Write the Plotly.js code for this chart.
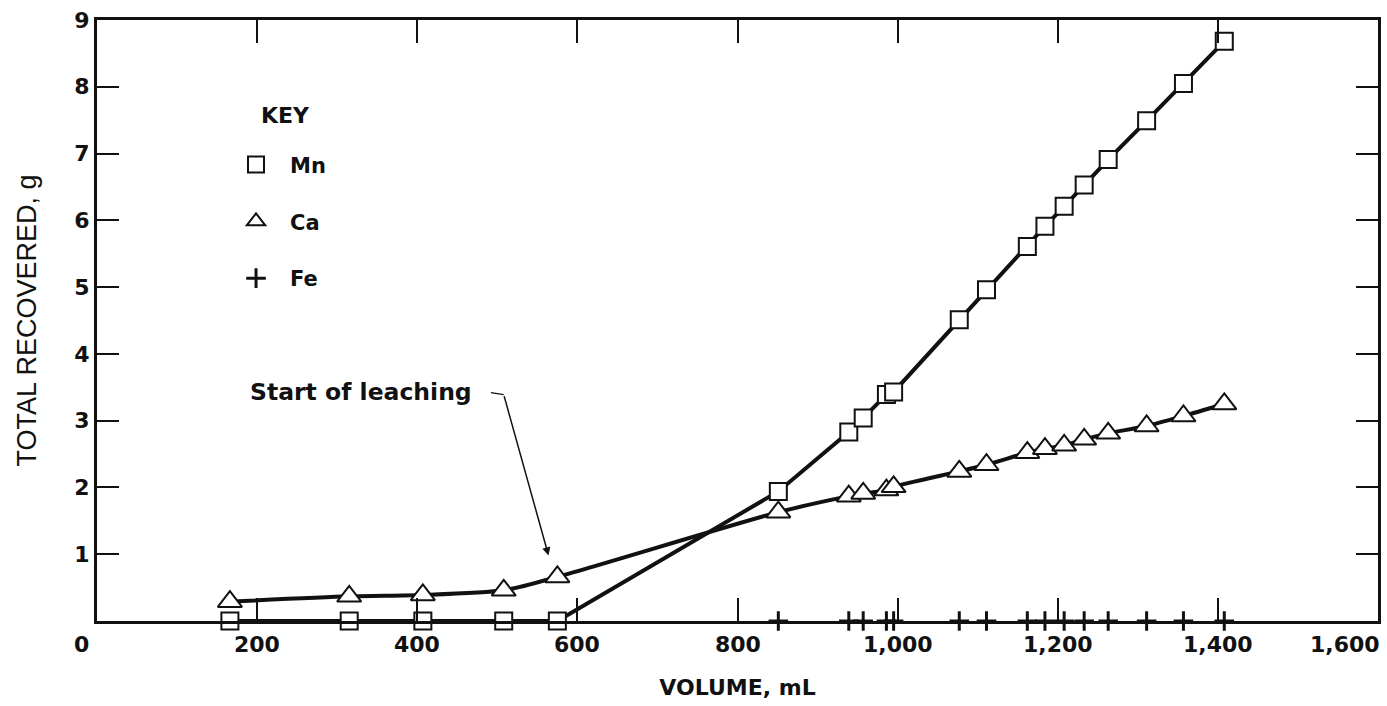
<!DOCTYPE html>
<html>
<head>
<meta charset="utf-8">
<script src="https://cdn.plot.ly/plotly-3.0.1.min.js"></script>
<style>
  html, body { margin: 0; padding: 0; background: #ffffff; }
  #chart { width: 1387px; height: 706px; }
</style>
</head>
<body>
<div id="chart"></div>
<script>
// Volume of leachate (mL) for each sample
const volume = [166, 315, 407, 508, 575, 851, 939, 957, 986, 995, 1077, 1111, 1162, 1184, 1208, 1233, 1263, 1311, 1357, 1408];
// Cumulative totals recovered (g)
const mn = [0, 0, 0, 0, 0, 1.94, 2.83, 3.04, 3.39, 3.43, 4.51, 4.96, 5.61, 5.91, 6.21, 6.53, 6.91, 7.49, 8.05, 8.68];
const ca = [0.29, 0.37, 0.39, 0.46, 0.66, 1.63, 1.87, 1.91, 1.96, 2.01, 2.24, 2.34, 2.52, 2.58, 2.63, 2.72, 2.81, 2.92, 3.07, 3.25];
const feVolume = [851, 939, 957, 986, 995, 1077, 1111, 1162, 1184, 1208, 1233, 1263, 1311, 1357, 1408];
const fe = [0, 0, 0, 0, 0, 0, 0, 0, 0, 0, 0, 0, 0, 0, 0];

// Axis ticks
const xTickVals = [0, 200, 400, 600, 800, 1000, 1200, 1400, 1600];
const xTickText = ['0', '200', '400', '600', '800', '1,000', '1,200', '1,400', '1,600'];
const yTickVals = [1, 2, 3, 4, 5, 6, 7, 8, 9];
const yTickText = ['1', '2', '3', '4', '5', '6', '7', '8', '9'];

const BOLD = 'DejaVu Sans, Liberation Sans, Arial, sans-serif';
const PLAIN = 'Liberation Sans, Arial, Helvetica, sans-serif';
const INK = '#111111';

const traces = [
  { x: volume, y: mn, mode: 'lines', name: 'Mn line', showlegend: false, cliponaxis: false,
    line: { color: INK, width: 4 }, hoverinfo: 'skip' },
  { x: volume, y: ca, mode: 'lines', name: 'Ca line', showlegend: false, cliponaxis: false,
    line: { color: INK, width: 4, shape: 'spline', smoothing: 0.7 }, hoverinfo: 'skip' },
  { x: volume, y: mn, mode: 'markers', name: 'Mn', legendgroup: 'mn', cliponaxis: false,
    marker: { symbol: 'square', size: 17, color: '#ffffff', line: { color: INK, width: 2 } } },
  { x: volume, y: ca, mode: 'markers', name: 'Ca', legendgroup: 'ca', cliponaxis: false,
    marker: { symbol: 'triangle-up', size: 21, color: '#ffffff', line: { color: INK, width: 2 } } },
  { x: feVolume, y: fe, mode: 'markers', name: 'Fe', legendgroup: 'fe', cliponaxis: false,
    marker: { symbol: 'cross-thin', size: 14, color: INK, line: { color: INK, width: 3 } } }
];

// x tick labels as annotations (first sits left of the axis, last ends at the frame)
const tickAnnotations = xTickVals.map((v, i) => {
  const last = i === xTickVals.length - 1;
  const first = i === 0;
  return {
    x: v, y: 0, xref: 'x', yref: 'y',
    text: xTickText[i], showarrow: false,
    xanchor: (first || last) ? 'right' : 'center',
    yanchor: 'top',
    xshift: first ? -6 : (last ? 4 : 0),
    yshift: -9,
    font: { family: BOLD, size: 22, color: INK, weight: 'bold' }
  };
});

const layout = {
  width: 1387, height: 706,
  margin: { l: 97, r: 9, t: 20, b: 85 },
  paper_bgcolor: '#ffffff', plot_bgcolor: '#ffffff',
  font: { family: BOLD, color: INK },
  showlegend: true,
  legend: {
    x: 0.0976, y: 0.793, xanchor: 'left', yanchor: 'top',
    bgcolor: 'rgba(0,0,0,0)', borderwidth: 0,
    font: { family: BOLD, size: 21, weight: 'bold', color: INK },
    traceorder: 'grouped', tracegroupgap: 26.5, itemwidth: 58
  },
  xaxis: {
    range: [0, 1600], tickmode: 'array', tickvals: xTickVals.slice(1, -1),
    showticklabels: false, ticks: 'inside', ticklen: 23, tickwidth: 2, tickcolor: INK,
    showline: true, linewidth: 3, linecolor: INK, mirror: 'ticks',
    showgrid: false, zeroline: false, fixedrange: true,
    title: { text: 'VOLUME, mL', font: { family: BOLD, size: 22, color: INK, weight: 'bold' }, standoff: 57 }
  },
  yaxis: {
    range: [0, 9], tickmode: 'array', tickvals: yTickVals, ticktext: yTickText,
    ticks: 'inside', ticklen: 22, tickwidth: 2, tickcolor: INK,
    tickfont: { family: BOLD, size: 22, color: INK, weight: 'bold' },
    showline: true, linewidth: 3, linecolor: INK, mirror: 'ticks',
    showgrid: false, zeroline: false, fixedrange: true,
    title: { text: 'TOTAL RECOVERED, g', font: { family: PLAIN, size: 27, color: INK }, standoff: 30 }
  },
  annotations: tickAnnotations.concat([
    { x: 235, y: 7.57, xref: 'x', yref: 'y', text: 'KEY', showarrow: false,
      xanchor: 'center', yanchor: 'middle', font: { family: BOLD, size: 22, color: INK, weight: 'bold' } },
    { x: 189, y: 3.43, xref: 'x', yref: 'y', text: 'Start of leaching', showarrow: false,
      xanchor: 'left', yanchor: 'middle', font: { family: BOLD, size: 23.5, color: INK, weight: 'bold' } },
    { x: 564, y: 0.98, xref: 'x', yref: 'y', axref: 'x', ayref: 'y', ax: 508, ay: 3.39,
      text: '', showarrow: true, arrowhead: 2, arrowsize: 1.1, arrowwidth: 1.5, arrowcolor: INK, standoff: 0 }
  ]),
  shapes: [
    { type: 'line', xref: 'x', yref: 'y', x0: 492, y0: 3.42, x1: 508, y1: 3.39,
      line: { color: INK, width: 1.5 } }
  ]
};

Plotly.newPlot('chart', traces, layout, { displayModeBar: false, staticPlot: true });
</script>
</body>
</html>
